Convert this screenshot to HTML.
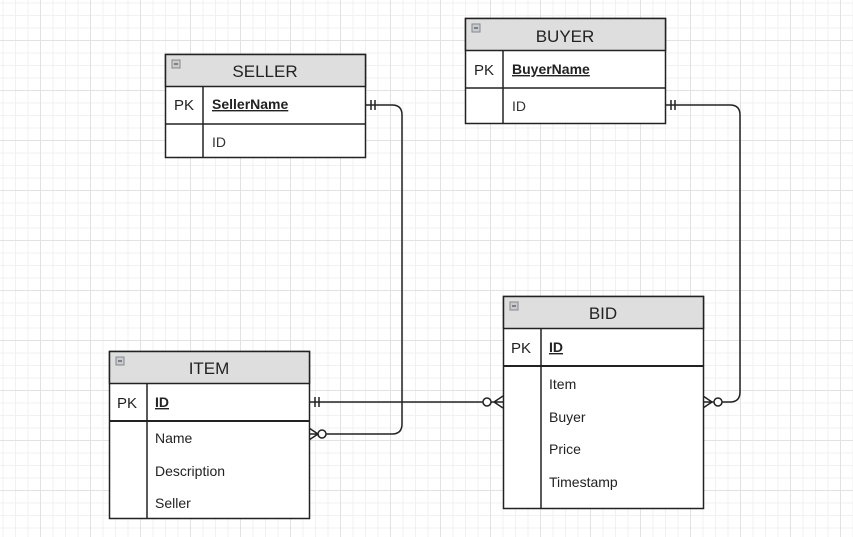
<!DOCTYPE html>
<html><head><meta charset="utf-8"><style>
html,body{margin:0;padding:0;background:#fff}
svg{display:block}
text{font-family:"Liberation Sans",Arial,sans-serif}
</style></head><body>
<svg width="853" height="537" viewBox="0 0 853 537" xmlns="http://www.w3.org/2000/svg">
<defs>
<pattern id="minor" width="12.5" height="12.5" patternUnits="userSpaceOnUse" x="2.5" y="2.5">
<path d="M0 0.5H12.5M0.5 0V12.5" stroke="#f1f1f1" stroke-width="1" fill="none"/>
</pattern>
<pattern id="major" width="50" height="50" patternUnits="userSpaceOnUse" x="40" y="40">
<path d="M0 0.5H50M0.5 0V50" stroke="#e2e2e2" stroke-width="1" fill="none"/>
</pattern>
</defs>
<rect width="853" height="537" fill="#fff"/>
<rect width="853" height="537" fill="url(#minor)"/>
<rect width="853" height="537" fill="url(#major)"/>

<g fill="none" stroke="#222" stroke-width="1.5">
<!-- seller -> item -->
<path d="M365 105 H392 Q402 105 402 115 V424 Q402 434 392 434 H326"/>
<path d="M371 100 V110 M375 100 V110"/>
<circle cx="322" cy="434" r="4" fill="#fff"/>
<path d="M309 428 L318 434 L309 440 M309 434 H318"/>
<!-- buyer -> bid -->
<path d="M665 105 H730 Q740 105 740 115 V392 Q740 402 730 402 H722"/>
<path d="M671 100 V110 M675 100 V110"/>
<circle cx="718" cy="402" r="4" fill="#fff"/>
<path d="M703 396 L712 402 L703 408 M703 402 H714"/>
<!-- item -> bid -->
<path d="M309 402 H483"/>
<path d="M315 397 V407 M319 397 V407"/>
<circle cx="487" cy="402" r="4" fill="#fff"/>
<path d="M503 396 L494 402 L503 408 M491 402 H503"/>
</g>

<!-- SELLER -->
<g>
<rect x="165.5" y="54.5" width="200" height="103" fill="#fff" stroke="#222" stroke-width="1.5"/>
<rect x="165.5" y="54.5" width="200" height="32" fill="#dedede" stroke="#222" stroke-width="1.5"/>
<line x1="165" y1="124" x2="365" y2="124" stroke="#222" stroke-width="1.5"/>
<line x1="203" y1="87" x2="203" y2="158" stroke="#222" stroke-width="1.5"/>
<rect x="172" y="60" width="8" height="8" fill="#c8ccd2" stroke="#888" stroke-width="1"/><line x1="174" y1="64" x2="178" y2="64" stroke="#333"/>
<text x="265" y="77" font-size="17" text-anchor="middle" fill="#222">SELLER</text>
<text x="174" y="110" font-size="15" fill="#222">PK</text>
<text x="212" y="109" font-size="14" font-weight="bold" text-decoration="underline" fill="#222">SellerName</text>
<text x="212" y="147" font-size="14" fill="#333">ID</text>
</g>

<!-- BUYER -->
<g>
<rect x="465.5" y="18.5" width="200" height="105" fill="#fff" stroke="#222" stroke-width="1.5"/>
<rect x="465.5" y="18.5" width="200" height="32" fill="#dedede" stroke="#222" stroke-width="1.5"/>
<line x1="465" y1="88" x2="665" y2="88" stroke="#222" stroke-width="1.5"/>
<line x1="503" y1="51" x2="503" y2="124" stroke="#222" stroke-width="1.5"/>
<rect x="472" y="24" width="8" height="8" fill="#c8ccd2" stroke="#888" stroke-width="1"/><line x1="474" y1="28" x2="478" y2="28" stroke="#333"/>
<text x="565" y="42" font-size="17" text-anchor="middle" fill="#222">BUYER</text>
<text x="474" y="75" font-size="15" fill="#222">PK</text>
<text x="512" y="74" font-size="14" font-weight="bold" text-decoration="underline" fill="#222">BuyerName</text>
<text x="512" y="111" font-size="14" fill="#333">ID</text>
</g>

<!-- ITEM -->
<g>
<rect x="109.5" y="351.5" width="200" height="167" fill="#fff" stroke="#222" stroke-width="1.5"/>
<rect x="109.5" y="351.5" width="200" height="32" fill="#dedede" stroke="#222" stroke-width="1.5"/>
<line x1="109" y1="421" x2="309" y2="421" stroke="#222" stroke-width="2"/>
<line x1="147" y1="384" x2="147" y2="519" stroke="#222" stroke-width="1.5"/>
<rect x="116" y="357" width="8" height="8" fill="#c8ccd2" stroke="#888" stroke-width="1"/><line x1="118" y1="361" x2="122" y2="361" stroke="#333"/>
<text x="209" y="374" font-size="17" text-anchor="middle" fill="#222">ITEM</text>
<text x="117" y="408" font-size="15" fill="#222">PK</text>
<text x="155" y="407" font-size="14" font-weight="bold" text-decoration="underline" fill="#222">ID</text>
<text x="155" y="443" font-size="14" fill="#222">Name</text>
<text x="155" y="476" font-size="14" fill="#222">Description</text>
<text x="155" y="508" font-size="14" fill="#222">Seller</text>
</g>

<!-- BID -->
<g>
<rect x="503.5" y="296.5" width="200" height="212" fill="#fff" stroke="#222" stroke-width="1.5"/>
<rect x="503.5" y="296.5" width="200" height="32" fill="#dedede" stroke="#222" stroke-width="1.5"/>
<line x1="503" y1="366" x2="703" y2="366" stroke="#222" stroke-width="2"/>
<line x1="541" y1="329" x2="541" y2="508" stroke="#222" stroke-width="1.5"/>
<rect x="510" y="302" width="8" height="8" fill="#c8ccd2" stroke="#888" stroke-width="1"/><line x1="512" y1="306" x2="516" y2="306" stroke="#333"/>
<text x="603" y="319" font-size="17" text-anchor="middle" fill="#222">BID</text>
<text x="511" y="353" font-size="15" fill="#222">PK</text>
<text x="549" y="352" font-size="14" font-weight="bold" text-decoration="underline" fill="#222">ID</text>
<text x="549" y="389" font-size="14" fill="#222">Item</text>
<text x="549" y="422" font-size="14" fill="#222">Buyer</text>
<text x="549" y="454" font-size="14" fill="#222">Price</text>
<text x="549" y="487" font-size="14" fill="#222">Timestamp</text>
</g>
</svg>
</body></html>
